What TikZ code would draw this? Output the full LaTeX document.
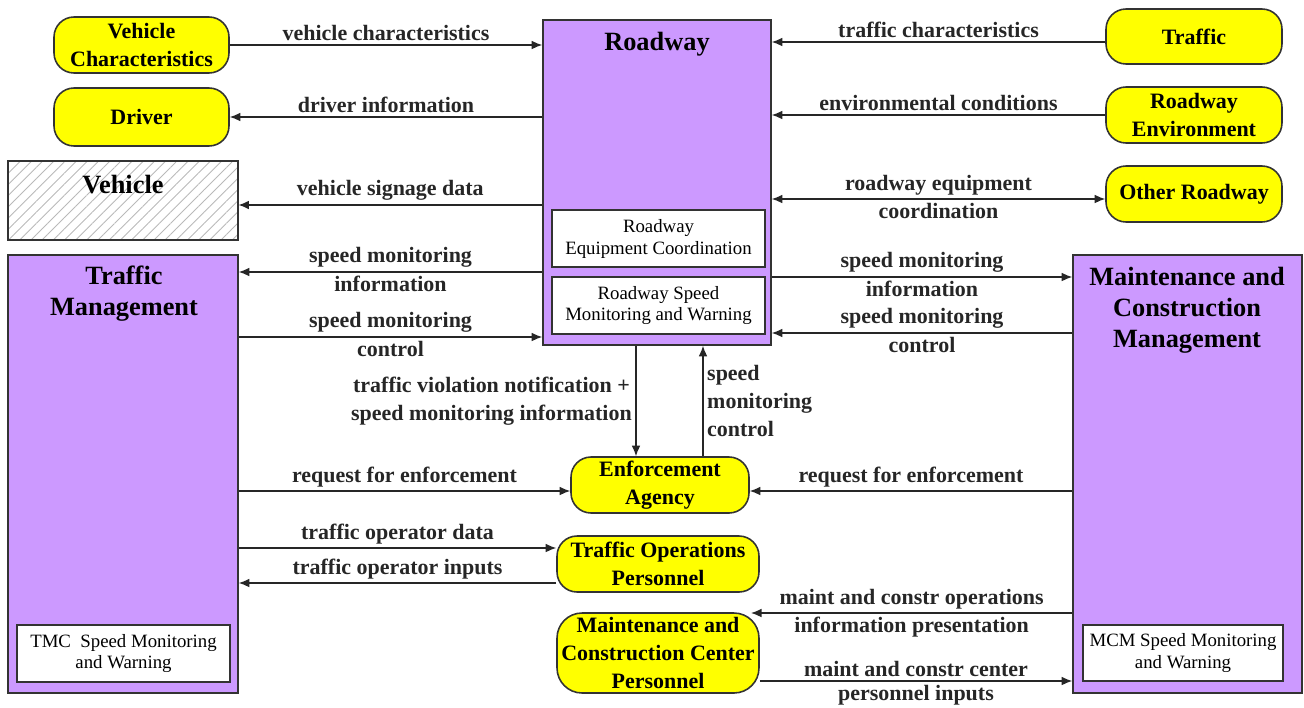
\documentclass[tikz,border=0pt]{standalone}
\usepackage{fontspec}
\setmainfont{Liberation Serif}
\usetikzlibrary{arrows.meta,patterns.meta}
\definecolor{lilac}{HTML}{CC99FF}
\definecolor{lemon}{HTML}{FFFF00}
\tikzset{
  sysbox/.style={draw=black!80, line width=0.9pt, fill=lilac, inner sep=0pt},
  subbox/.style={draw=black!80, line width=0.8pt, fill=white, inner sep=0pt, align=center,
    font=\fontsize{10.7}{12.5}\selectfont},
  termbox/.style={draw=black!80, line width=0.9pt, fill=lemon, inner sep=0pt, rounded corners=0.4cm,
    align=center, font=\bfseries\fontsize{12.5}{15.8}\selectfont},
  headtxt/.style={font=\bfseries\fontsize{15}{17.6}\selectfont, align=center},
  lbl/.style={font=\bfseries\fontsize{12.5}{15.8}\selectfont, align=center, inner sep=2pt},
  flow/.style={-{Latex[length=6pt,width=5pt]}, line width=0.8pt, black!85},
}
\begin{document}
\begin{tikzpicture}[x=0.02cm, y=-0.02cm]
    \useasboundingbox (0,0) rectangle (1304,707);
    % 路侧系统
    \node[sysbox, minimum width=4.56cm, minimum height=6.5cm] (road) at (657,182.5) {};
    \node[headtxt] (roadT) at (657,44) {Roadway};
    \node[subbox, minimum width=4.26cm, minimum height=1.14cm] (rec) at (658.5,238.5) {Roadway\\Equipment Coordination};
    \node[subbox, minimum width=4.26cm, minimum height=1.14cm] (rsm) at (658.5,305.5) {Roadway Speed\\Monitoring and Warning};
    % 交通管理 / 养护管理
    \node[sysbox, minimum width=4.6cm, minimum height=8.76cm] (tm) at (123,474) {};
    \node[headtxt] (tmT) at (124,294) {Traffic\\Management};
    \node[subbox, minimum width=4.26cm, minimum height=1.14cm] (tmcsm) at (123.5,653.5) {TMC~ Speed Monitoring\\and Warning};
    \node[sysbox, minimum width=4.58cm, minimum height=8.76cm] (mcm) at (1187.5,474) {};
    \node[headtxt] (mcmT) at (1187,310.5) {Maintenance and\\Construction\\Management};
    \node[subbox, minimum width=4.0cm, minimum height=1.12cm] (mcmsm) at (1183,653) {MCM Speed Monitoring\\and Warning};
    % 车辆（斜线）
    \node[draw=black!80, line width=0.9pt, pattern={Lines[angle=45,distance=4.5pt,line width=0.5pt]},
      pattern color=gray!55, minimum width=4.6cm, minimum height=1.58cm, inner sep=0pt] (vehicle) at (123,200.5) {};
    \node[headtxt] (vehT) at (123,185) {Vehicle};
    % 终端
    \node[termbox, minimum width=3.5cm, minimum height=1.12cm] (vchar) at (141.5,45) {Vehicle\\Characteristics};
    \node[termbox, minimum width=3.5cm, minimum height=1.16cm] (driver) at (141.5,117) {Driver};
    \node[termbox, minimum width=3.52cm, minimum height=1.1cm] (traffic) at (1194,36.5) {Traffic};
    \node[termbox, minimum width=3.52cm, minimum height=1.12cm] (renv) at (1194,115) {Roadway\\Environment};
    \node[termbox, minimum width=3.52cm, minimum height=1.12cm] (oroad) at (1194,194) {Other Roadway};
    \node[termbox, minimum width=3.56cm, minimum height=1.12cm] (enf) at (660,485) {Enforcement\\Agency};
    \node[termbox, minimum width=4.04cm, minimum height=1.12cm] (top) at (658,564) {Traffic Operations\\Personnel};
    \node[termbox, minimum width=4.04cm, minimum height=1.6cm, rounded corners=0.5cm] (mccp) at (658,653) {Maintenance and\\Construction Center\\Personnel};
    % 参考坐标
    \coordinate (yTC) at (0,42);
    \coordinate (yOR) at (0,199);
    \coordinate (yVS) at (0,205);
    \coordinate (yTMi) at (0,272);
    \coordinate (yTMc) at (0,337);
    \coordinate (yMCi) at (0,277);
    \coordinate (yMCc) at (0,333);
    \coordinate (yReq) at (0,491);
    \coordinate (yTOd) at (0,548);
    \coordinate (yTOi) at (0,583);
    \coordinate (yMCo) at (0,613);
    \coordinate (yMCp) at (0,681);
    \coordinate (xDn) at (636,0);
    \coordinate (xUp) at (703,0);
    \coordinate (mccpTip) at (751,613);
    % 左上数据流
    \draw[flow] (vchar.east) -- (road.west |- vchar.east) node[lbl, above, midway] {vehicle characteristics};
    \draw[flow] (road.west |- driver.east) -- (driver.east) node[lbl, above, midway] {driver information};
    \draw[flow] (road.west |- yVS) -- (vehicle.east |- yVS) node[lbl, above, midway] {vehicle signage data};
    % 右上数据流
    \draw[flow] (traffic.west |- yTC) -- (road.east |- yTC) node[lbl, above, midway] {traffic characteristics};
    \draw[flow] (renv.west) -- (road.east |- renv.west) node[lbl, above, midway] {environmental conditions};
    \draw[flow, {Latex[length=6pt,width=5pt]}-{Latex[length=6pt,width=5pt]}] (road.east |- yOR) -- (oroad.west |- yOR)
      node[lbl, above, midway] {roadway equipment} node[lbl, below, midway] {coordination};
    % 速度监测
    \draw[flow] (road.west |- yTMi) -- (tm.east |- yTMi)
      node[lbl, above, midway] {speed monitoring} node[lbl, below, midway] {information};
    \draw[flow] (tm.east |- yTMc) -- (road.west |- yTMc)
      node[lbl, above, midway] {speed monitoring} node[lbl, below, midway] {control};
    \draw[flow] (road.east |- yMCi) -- (mcm.west |- yMCi)
      node[lbl, above, midway] {speed monitoring} node[lbl, below, midway] {information};
    \draw[flow] (mcm.west |- yMCc) -- (road.east |- yMCc)
      node[lbl, above, midway] {speed monitoring} node[lbl, below, midway] {control};
    % 执法
    \draw[flow] (road.south -| xDn) -- (enf.north -| xDn)
      node[lbl, left, midway] {traffic violation notification +\\speed monitoring information};
    \draw[flow] (enf.north -| xUp) -- (road.south -| xUp)
      node[lbl, right, midway, align=left] {speed\\monitoring\\control};
    \draw[flow] (tm.east |- yReq) -- (enf.west |- yReq) node[lbl, above, midway] {request for enforcement};
    \draw[flow] (mcm.west |- yReq) -- (enf.east |- yReq) node[lbl, above, midway] {request for enforcement};
    % 人员
    \draw[flow] (tm.east |- yTOd) -- (top.west |- yTOd) node[lbl, above, midway] {traffic operator data};
    \draw[flow] (top.west |- yTOi) -- (tm.east |- yTOi) node[lbl, above, midway] {traffic operator inputs};
    \draw[flow] (mcm.west |- yMCo) -- (mccpTip)
      node[lbl, above, midway] {maint and constr operations} node[lbl, below, midway] {information presentation};
    \draw[flow] (mccp.east |- yMCp) -- (mcm.west |- yMCp)
      node[lbl, above, midway] {maint and constr center} node[lbl, below, midway] {personnel inputs};
\end{tikzpicture}
\end{document}
